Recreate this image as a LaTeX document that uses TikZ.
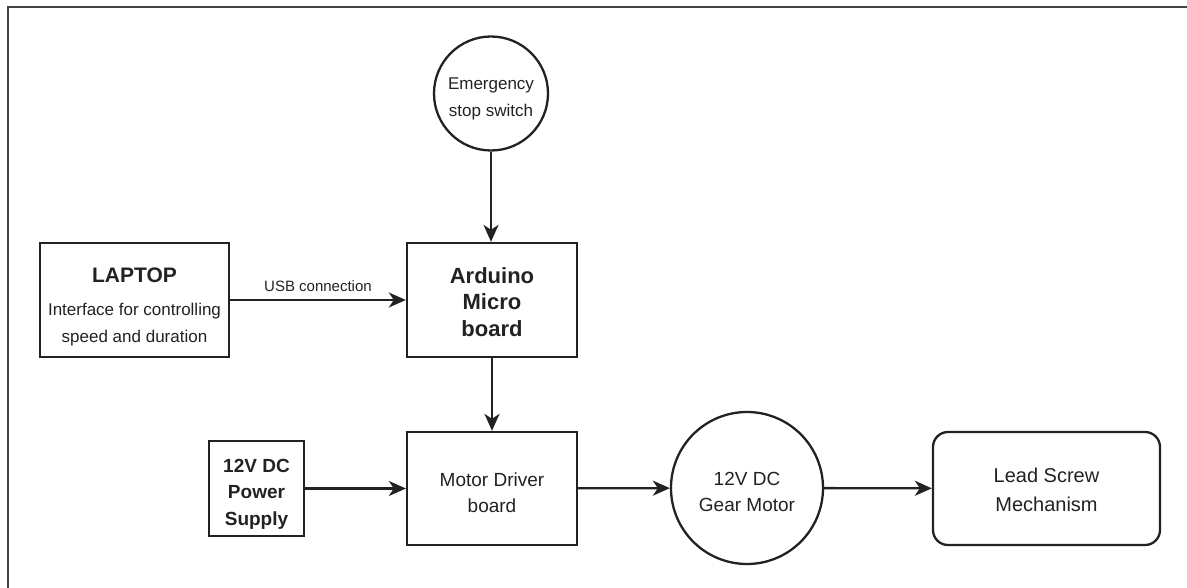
\documentclass[tikz,border=0pt]{standalone}
\usepackage{fontspec}
\setmainfont{Liberation Sans}
\usetikzlibrary{arrows.meta}
\definecolor{ink}{HTML}{222222}
\newcommand\liftto[1]{\rule{0pt}{#1}}
\tikzset{
  blk/.style={draw=ink, line width=2.3pt, rectangle, inner sep=0pt, align=center, text=ink},
  rblk/.style={blk, rounded corners=15pt},
  circ/.style={draw=ink, line width=2.3pt, circle, inner sep=0pt, align=center, text=ink},
  conn/.style={draw=ink, line width=2.3pt, -{Stealth[length=17pt,width=15pt,inset=5pt]}},
  lbl/.style={inner sep=0pt, text=ink}
}
\begin{document}
\begin{tikzpicture}[x=1pt,y=-1pt]
\useasboundingbox (0,0) rectangle (1187,588);
\draw[line width=2pt, draw=ink!85] (1187,7) -- (7.5,7) -- (7.5,588);

\node[circ, minimum size=114pt, font=\fontsize{17}{27}\selectfont] (stop) at (491,93.5)
  {\liftto{22.5pt}Emergency\\stop switch};

\node[blk, minimum width=189pt, minimum height=114pt, font=\fontsize{17}{27}\selectfont] (laptop) at (134.5,300)
  {\liftto{29pt}{\fontsize{21}{27}\selectfont\bfseries LAPTOP}\\[6pt]
   Interface for controlling\\speed and duration};

\node[blk, minimum width=170pt, minimum height=114pt, font=\fontsize{22}{26.5}\selectfont\bfseries] (ard) at (492,300)
  {\liftto{20pt}Arduino\\Micro\\board};

\node[blk, minimum width=95pt, minimum height=95pt, font=\fontsize{19}{26.5}\selectfont\bfseries] (pwr) at (256.5,488.5)
  {\liftto{24pt}12V DC\\Power\\Supply};

\node[blk, minimum width=170pt, minimum height=113pt, font=\fontsize{19}{26}\selectfont] (drv) at (492,488.5)
  {\liftto{22pt}Motor Driver\\board};

\node[circ, minimum size=152pt, font=\fontsize{19}{26}\selectfont] (mot) at (747,488)
  {\liftto{22pt}12V DC\\Gear Motor};

\node[rblk, minimum width=227pt, minimum height=113pt, font=\fontsize{20}{29}\selectfont] (lead) at (1046.5,488.5)
  {\liftto{16.5pt}Lead Screw\\Mechanism};

\draw[conn] (stop) -- (stop |- ard.north);
\draw[conn] (laptop.east) -- (ard.west) node[lbl, midway, above=7pt, font=\fontsize{15}{18}\selectfont] {USB connection};
\draw[conn] (ard) -- (drv);
\draw[conn] (pwr) -- (drv);
\draw[conn] (drv) -- (mot);
\draw[conn] (mot) -- (lead);
\end{tikzpicture}
\end{document}
